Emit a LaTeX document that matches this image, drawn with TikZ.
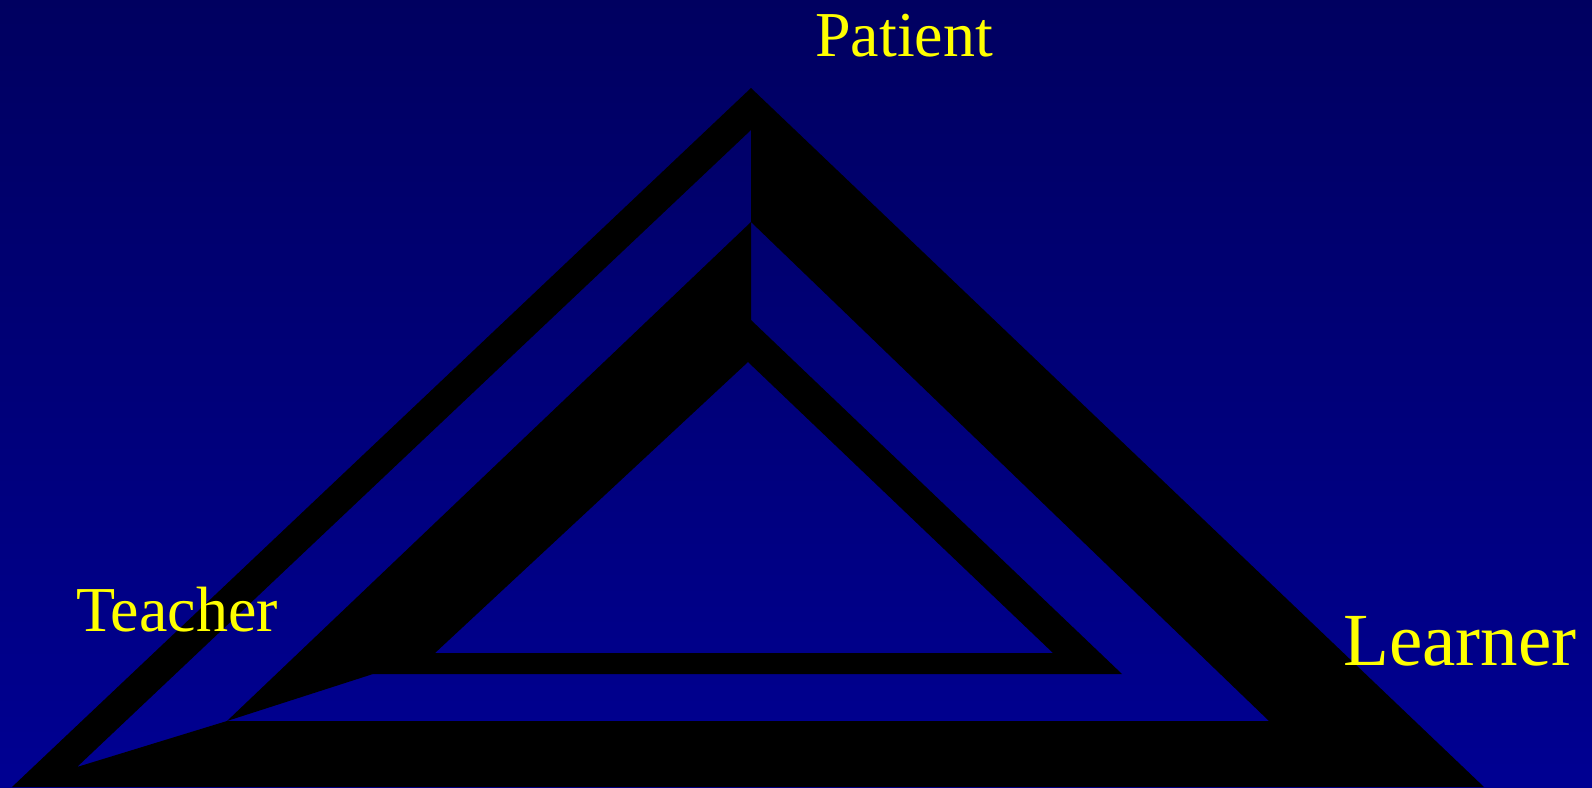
\documentclass[tikz,border=0pt]{standalone}
\usepackage{fontspec}
\setmainfont{Liberation Serif}
\usetikzlibrary{positioning}
\definecolor{navytop}{RGB}{0,0,96}
\definecolor{navybot}{RGB}{0,0,146}
\definecolor{lbl}{RGB}{255,255,0}
\begin{document}
\begin{tikzpicture}[x=1pt,y=-1pt,lab/.style={text=lbl,inner sep=0pt,anchor=base west}]
\shade[top color=navytop,bottom color=navybot] (0,0) rectangle (1592,787);
\useasboundingbox (0,0) rectangle (1592,787);
% black frame, blue gaps cut out
\fill[black,even odd rule] (12,787)--(751,88)--(1484,787)--cycle
  (751,130)--(751,222)--(227,721)--(77,767)--cycle
  (751,222)--(751,320)--(1122,674)--(373,674)--(227,721)--(1269,721)--cycle
  (748,362)--(1053,653)--(435,653)--cycle;
\node[lab,font=\fontsize{64}{64}\selectfont] (patient) at (815,56) {Patient};
\node[lab,font=\fontsize{64}{64}\selectfont] (teacher) at (76,631) {Teacher};
\node[lab,font=\fontsize{75}{75}\selectfont] (learner) at (1343,665) {Learner};
\end{tikzpicture}
\end{document}
